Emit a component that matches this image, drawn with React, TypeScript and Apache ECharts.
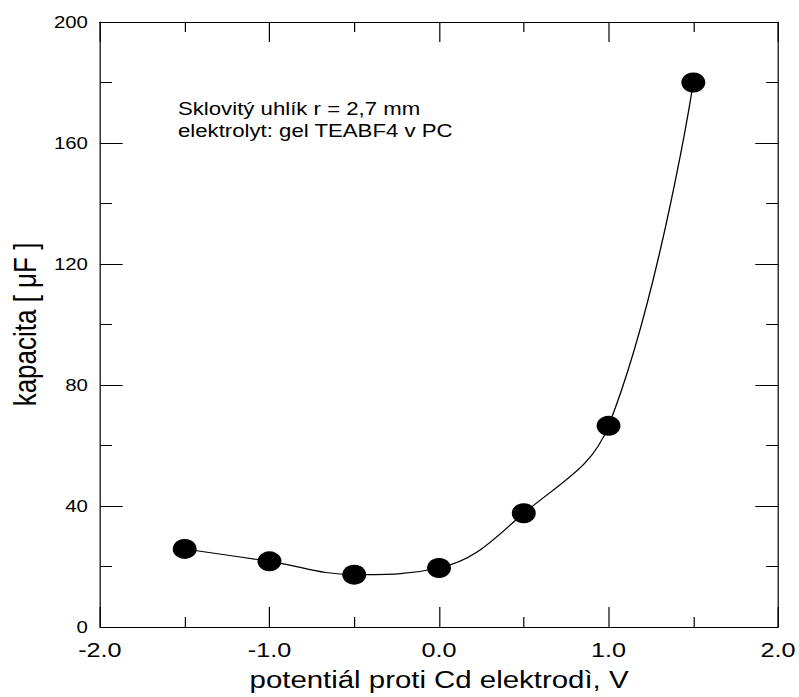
import React, { useEffect, useRef } from "react";
import * as echarts from "echarts";

const potentials = [-1.5, -1.0, -0.5, 0.0, 0.5, 1.0, 1.5];
const capacities = [25.8, 21.7, 17.3, 19.5, 37.6, 66.5, 180];
const xTicks = [-2, -1, 0, 1, 2];
const yTicks = [0, 40, 80, 120, 160, 200];
const noteLines = ["Sklovitý uhlík r = 2,7 mm", "elektrolyt: gel TEABF4 v PC"];
const xTitle = "potentiál proti Cd elektrodì, V";
const yTitle = "kapacita [ μF ]";

const STRETCH = 1.2;
const W = 799 / STRETCH;
const H = 697;
const FONT = "'Liberation Sans', Arial, sans-serif";

export default function App() {
  const ref = useRef<HTMLDivElement>(null);
  useEffect(() => {
    if (!ref.current) return;
    const chart = echarts.init(ref.current, null, { renderer: "svg" });
    const axisLine = { show: true, onZero: false, lineStyle: { color: "#000", width: 1 } };
    const xBase = {
      type: "value" as const,
      min: xTicks[0],
      max: xTicks[xTicks.length - 1],
      interval: 1,
      axisLine,
      axisTick: { show: true, inside: true, length: 20, lineStyle: { color: "#000" } },
      minorTick: { show: true, splitNumber: 2, length: 10, lineStyle: { color: "#000" } },
      splitLine: { show: false },
    };
    const yBase = {
      type: "value" as const,
      min: yTicks[0],
      max: yTicks[yTicks.length - 1],
      interval: 40,
      axisLine,
      axisTick: { show: true, inside: true, length: 19, lineStyle: { color: "#000" } },
      minorTick: { show: true, splitNumber: 2, length: 10, lineStyle: { color: "#000" } },
      splitLine: { show: false },
    };
    chart.setOption({
      animation: false,
      backgroundColor: "#fff",
      grid: { left: 77.5, right: W - 650, top: 22, bottom: 68 },
      xAxis: [
        {
          ...xBase,
          position: "bottom",
          axisLabel: {
            color: "#000",
            fontFamily: FONT,
            fontSize: 21,
            margin: 12,
            formatter: (v: number) => v.toFixed(1),
          },
          name: xTitle,
          nameLocation: "middle",
          nameGap: 40,
          nameTextStyle: { color: "#000", fontFamily: FONT, fontSize: 24.5 },
        },
        { ...xBase, position: "top", axisLabel: { show: false } },
      ],
      yAxis: [
        {
          ...yBase,
          position: "left",
          axisLabel: { color: "#000", fontFamily: FONT, fontSize: 17, margin: 10 },
          name: yTitle,
          nameLocation: "middle",
          nameGap: 48,
          nameTextStyle: { color: "#000", fontFamily: FONT, fontSize: 26 },
        },
        { ...yBase, position: "right", axisLabel: { show: false } },
      ],
      graphic: noteLines.map((t, i) => ({
        type: "text",
        x: 148.3,
        y: 108.4 + i * 22,
        style: {
          text: t,
          fill: "#000",
          font: `18.5px ${FONT}`,
          verticalAlign: "middle",
          align: "left",
        },
      })),
      series: [
        {
          type: "line",
          xAxisIndex: 0,
          yAxisIndex: 0,
          data: potentials.map((x, i) => [x, capacities[i]]),
          smooth: 0.4,
          symbol: "circle",
          symbolSize: 20,
          itemStyle: { color: "#000" },
          lineStyle: { color: "#000", width: 1.1 },
        },
      ],
    });
    return () => chart.dispose();
  }, []);
  return (
    <div
      style={{
        position: "fixed",
        left: 0,
        top: 0,
        width: W,
        height: H,
        transform: `scaleX(${STRETCH})`,
        transformOrigin: "0 0",
        background: "#fff",
      }}
    >
      <div ref={ref} style={{ width: W, height: H }} />
    </div>
  );
}
